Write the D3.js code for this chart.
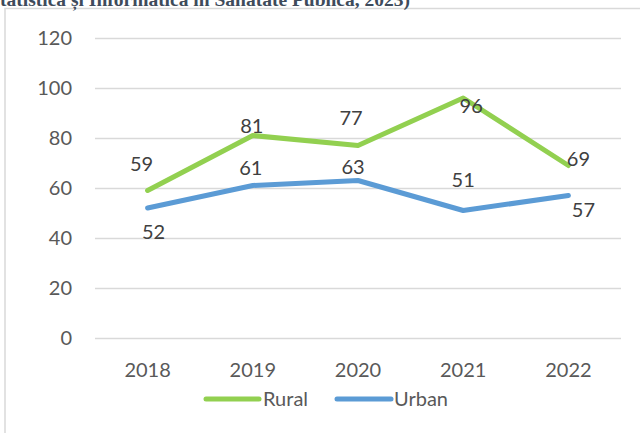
<!DOCTYPE html>
<html>
<head>
<meta charset="utf-8">
<script src="https://cdn.jsdelivr.net/npm/d3@7"></script>
<style>
  html, body { margin: 0; padding: 0; background: #fff; }
  svg { display: block; }
</style>
</head>
<body>
<svg id="chart" width="640" height="433"></svg>
<script>
// ---- data ----
const categories = ["2018", "2019", "2020", "2021", "2022"];
const seriesNames = ["Rural", "Urban"];
const ruralValues = [59, 81, 77, 96, 69];
const urbanValues = [52, 61, 63, 51, 57];
const yTicks = [0, 20, 40, 60, 80, 100, 120];
const titleText = "Statistica și Informatica în Sanatate Publica, 2023)";

// ---- style / layout ----
const colors = { Rural: "#92D050", Urban: "#5B9BD5" };
// label offsets (px) relative to each point
const ruralLabelOffsets = [[-6, -27], [-1, -10], [-7, -28], [8, 8], [10, -7]];
const urbanLabelOffsets = [[6, 24], [-2, -18], [-5, -14], [0, -31], [15, 14]];

const W = 640, H = 433;
const plot = { left: 95, right: 621, top: 38, bottom: 338 };
const svg = d3.select("#chart");
const font = "Lato, 'Open Sans', sans-serif";

// outer frame
svg.append("path")
  .attr("d", `M5,${H + 5} L5,8.5 L${W + 5},8.5`)
  .attr("fill", "none").attr("stroke", "#d9d9d9").attr("stroke-width", 1.5);

// cut-off title text at top (as in the reference)
svg.append("text")
  .attr("x", 410).attr("y", 6)
  .attr("text-anchor", "end")
  .attr("font-family", "'Liberation Serif', 'Times New Roman', serif")
  .attr("font-weight", "bold")
  .attr("font-size", 19.5)
  .attr("fill", "#3e4b5b")
  .text(titleText);

const x = d3.scaleBand().domain(categories).range([plot.left, plot.right]);
const y = d3.scaleLinear().domain([0, 120]).range([plot.bottom, plot.top]);

// gridlines
const yAxis = d3.axisLeft(y).tickValues(yTicks).tickSize(-(plot.right - plot.left)).tickPadding(23);
const gy = svg.append("g").attr("transform", `translate(${plot.left},0)`).call(yAxis);
gy.select(".domain").remove();
gy.selectAll(".tick line").attr("stroke", "#d9d9d9").attr("stroke-width", 1.5);
gy.selectAll(".tick text")
  .attr("font-family", font).attr("font-size", 20).attr("fill", "#595959");

// x axis labels
const xAxis = d3.axisBottom(x).tickSize(0).tickPadding(0);
const gx = svg.append("g").attr("transform", `translate(0,${plot.bottom})`).call(xAxis);
gx.select(".domain").remove();
gx.selectAll(".tick text")
  .attr("font-family", font).attr("font-size", 20).attr("fill", "#595959")
  .attr("dy", null).attr("y", 39);

const cx = c => x(c) + x.bandwidth() / 2;
const line = d3.line().x((d, i) => cx(categories[i])).y(d => y(d));

const series = [
  { name: "Rural", values: ruralValues, offsets: ruralLabelOffsets },
  { name: "Urban", values: urbanValues, offsets: urbanLabelOffsets }
];

series.forEach(s => {
  svg.append("path")
    .datum(s.values)
    .attr("d", line)
    .attr("fill", "none")
    .attr("stroke", colors[s.name])
    .attr("stroke-width", 5)
    .attr("stroke-linejoin", "round")
    .attr("stroke-linecap", "round");
});

series.forEach(s => {
  svg.append("g").selectAll("text")
    .data(s.values)
    .join("text")
    .attr("x", (d, i) => cx(categories[i]) + s.offsets[i][0])
    .attr("y", (d, i) => y(d) + s.offsets[i][1])
    .attr("dy", "0.35em")
    .attr("text-anchor", "middle")
    .attr("font-family", font).attr("font-size", 20).attr("fill", "#404040")
    .text(d => d);
});

// legend
const legendItems = [
  { name: "Rural", x0: 206, x1: 259, tx: 263 },
  { name: "Urban", x0: 337, x1: 391, tx: 394 }
];
const lg = svg.append("g");
legendItems.forEach(it => {
  lg.append("line")
    .attr("x1", it.x0).attr("x2", it.x1).attr("y1", 399).attr("y2", 399)
    .attr("stroke", colors[it.name]).attr("stroke-width", 5).attr("stroke-linecap", "round");
  lg.append("text")
    .attr("x", it.tx).attr("y", 399).attr("dy", "0.35em")
    .attr("font-family", font).attr("font-size", 20).attr("fill", "#595959")
    .text(it.name);
});
</script>
</body>
</html>
